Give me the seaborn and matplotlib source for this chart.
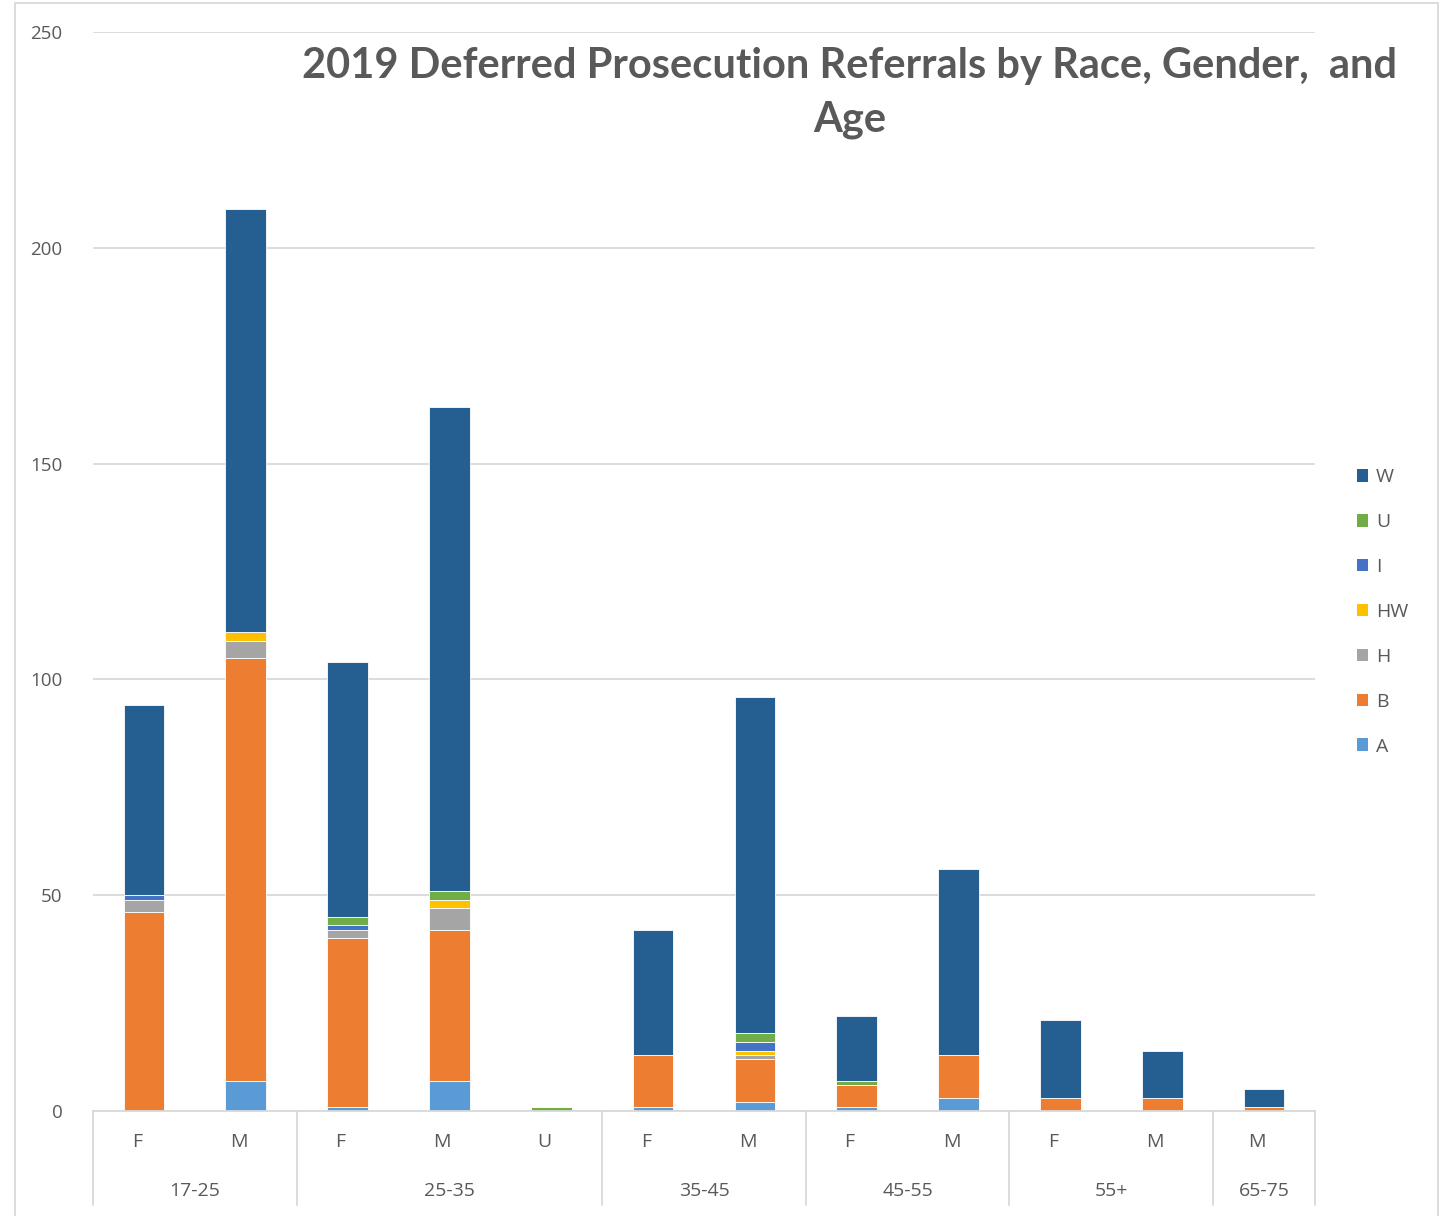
import pandas as pd
import seaborn as sns
import matplotlib.pyplot as plt
import matplotlib.transforms as mtransforms
from matplotlib.patches import Patch, Rectangle

# Données
ages = ["17-25", "17-25", "25-35", "25-35", "25-35", "35-45", "35-45",
        "45-55", "45-55", "55+", "55+", "65-75"]
genders = ["F", "M", "F", "M", "U", "F", "M", "F", "M", "F", "M", "M"]
races = ["W", "U", "I", "HW", "H", "B", "A"]

A = [0, 7, 1, 7, 0, 1, 2, 1, 3, 0, 0, 0]
B = [46, 98, 39, 35, 0, 12, 10, 5, 10, 3, 3, 1]
H = [3, 4, 2, 5, 0, 0, 1, 0, 0, 0, 0, 0]
HW = [0, 2, 0, 2, 0, 0, 1, 0, 0, 0, 0, 0]
I = [1, 0, 1, 0, 0, 0, 2, 0, 0, 0, 0, 0]
U = [0, 0, 2, 2, 1, 0, 2, 1, 0, 0, 0, 0]
W = [44, 98, 59, 112, 0, 29, 78, 15, 43, 18, 11, 4]

colors = {"W": "#255E91", "U": "#70AD47", "I": "#4472C4", "HW": "#FFC000",
          "H": "#A5A5A5", "B": "#ED7D31", "A": "#5B9BD5"}

series = {"W": W, "U": U, "I": I, "HW": HW, "H": H, "B": B, "A": A}
cats = [f"{a} {g}" for a, g in zip(ages, genders)]
rows = []
for i, c in enumerate(cats):
    for r in races:
        rows.append({"cat": c, "race": r, "n": series[r][i]})
df = pd.DataFrame(rows)
df["cat"] = pd.Categorical(df["cat"], categories=cats, ordered=True)

sns.set_style("white")
plt.rcParams["font.family"] = ["Open Sans", "DejaVu Sans"]
grey = "#595959"
line_c = "#D9D9D9"

W_PX, H_PX = 1446, 1216
fig = plt.figure(figsize=(W_PX / 100, H_PX / 100), dpi=100)
ax = fig.add_axes([93 / W_PX, 1 - 1111 / H_PX, (1315 - 93) / W_PX, (1111 - 32) / H_PX])

sns.histplot(data=df, x="cat", weights="n", hue="race", hue_order=races,
             multiple="stack", discrete=True, shrink=0.4, palette=colors,
             alpha=1, edgecolor="white", linewidth=0.6, legend=False, ax=ax)

ax.set_xlim(-0.5, len(cats) - 0.5)
ax.set_ylim(0, 250)
ax.set_yticks([0, 50, 100, 150, 200, 250])
ax.yaxis.grid(True, color=line_c, linewidth=1.3)
ax.set_axisbelow(True)
for s in ["top", "right", "left"]:
    ax.spines[s].set_visible(False)
ax.spines["bottom"].set_color(line_c)
ax.spines["bottom"].set_linewidth(1.3)
ax.tick_params(axis="y", length=0, pad=22, labelsize=13.5, labelcolor=grey)
ax.set_xticks(range(len(cats)))
ax.set_xticklabels([])
ax.tick_params(axis="x", length=0)
ax.set_xlabel("")
ax.set_ylabel("")

# Axe des catégories à deux niveaux
trans = mtransforms.blended_transform_factory(ax.transData, ax.transAxes)
ax_h = 1111 - 32
for i, g in enumerate(genders):
    ax.text(i - 0.07, -31 / ax_h, g, transform=trans, ha="center", va="center",
            fontsize=14, color=grey)
groups = []
for i, a in enumerate(ages):
    if not groups or groups[-1][0] != a:
        groups.append([a, i, i])
    else:
        groups[-1][2] = i
bounds = [-0.5] + [g[2] + 0.5 for g in groups]
for b in bounds:
    ax.plot([b, b], [0, -94 / ax_h], transform=trans, color=line_c,
            linewidth=1.3, clip_on=False)
for a, i0, i1 in groups:
    ax.text((i0 + i1) / 2, -80 / ax_h, a, transform=trans, ha="center",
            va="center", fontsize=14, color=grey)

# Titre
fig.text(850 / W_PX, 1 - 93 / H_PX,
         "2019 Deferred Prosecution Referrals by Race, Gender,  and\nAge",
         ha="center", va="center", fontsize=30, fontweight="bold", color=grey,
         linespacing=1.5, family=["Lato", "DejaVu Sans"])

# Légende
handles = [Patch(facecolor=colors[r], edgecolor="none", label=r) for r in races]
fig.legend(handles=handles, loc="upper left",
           bbox_to_anchor=(1339 / W_PX, 1 - 451 / H_PX), frameon=False,
           fontsize=14, labelcolor=grey, handlelength=0.6, handleheight=0.6,
           handletextpad=0.4, labelspacing=1.38)

# Cadre du graphique
fig.patches.append(Rectangle((15 / W_PX, -0.01), (1438 - 15) / W_PX, 1.01 - 3 / H_PX,
                             transform=fig.transFigure, fill=False,
                             edgecolor=line_c, linewidth=1.3))

fig.savefig("out.png", dpi=100)
